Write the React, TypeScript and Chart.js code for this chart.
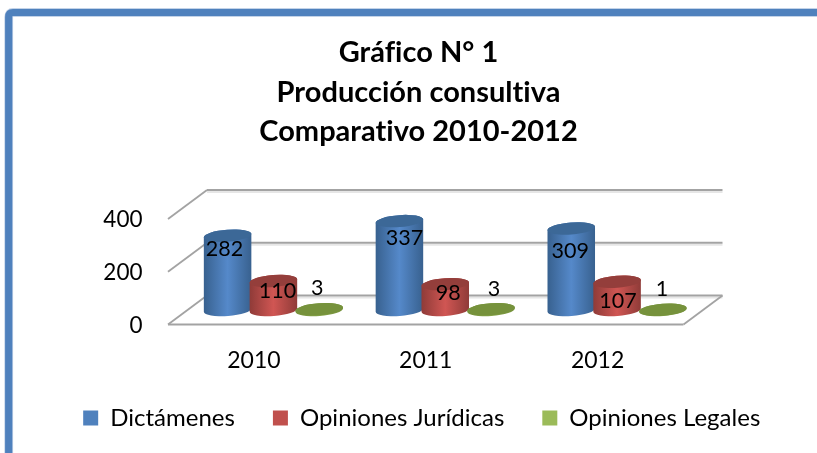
import React, { useEffect, useRef } from "react";
import { Chart, registerables } from "chart.js";

Chart.register(...registerables);

const titleLines = ["Gráfico N° 1", "Producción consultiva", "Comparativo 2010-2012"];
const categories = ["2010", "2011", "2012"];
const dictamenes = [282, 337, 309];
const opinionesJuridicas = [110, 98, 107];
const opinionesLegales = [3, 3, 1];
const seriesNames = ["Dictámenes", "Opiniones Jurídicas", "Opiniones Legales"];
const legendColors = ["#4f81bd", "#c0504d", "#9bbb59"];
const bodyEdge = ["#38618f", "#8f3b38", "#76923c"];
const bodyMid = ["#5589ca", "#d05653", "#8aa84c"];
const topColors = ["#3c6897", "#943e3b", "#76923c"];
// Hand placement of each value label relative to the top of its column (dx, dy).
const labelNudges = [
  [[-3, 13], [4, 10], [-2, -21]],
  [[5, 17], [3, 9], [3, -20]],
  [[-1, 23], [1, 19], [-1, -21]],
];

const DEPTH_X = 19.5;
const DEPTH_Y = 14.5;
const FONT = "Lato";
const TILT = -0.075;

const cylinderPlugin = {
  id: "cylinders",
  beforeDraw(chart: any) {
    const { ctx, width, height } = chart;
    ctx.letterSpacing = "0.01px";
    ctx.save();
    ctx.fillStyle = "#ffffff";
    ctx.fillRect(0, 0, width, height);
    const frame = () => {
      ctx.beginPath();
      ctx.moveTo(8.7, height + 5);
      ctx.lineTo(8.7, 17);
      ctx.quadraticCurveTo(8.7, 12.5, 13, 12.5);
      ctx.lineTo(width + 5, 12.5);
      ctx.stroke();
    };
    ctx.strokeStyle = "#c3d3e8";
    ctx.lineWidth = 8.8;
    frame();
    ctx.strokeStyle = "#4f81bd";
    ctx.lineWidth = 7.2;
    frame();
    ctx.restore();
  },
  beforeDatasetsDraw(chart: any) {
    const { ctx, chartArea: a, scales } = chart;
    const y = scales.y;
    ctx.save();
    ctx.lineCap = "butt";
    const line = (x1: number, y1: number, x2: number, y2: number) => {
      ctx.beginPath();
      ctx.moveTo(x1, y1);
      ctx.lineTo(x2, y2);
      ctx.stroke();
    };
    const values = y.ticks.map((t: any) => t.value);
    ctx.strokeStyle = "#e6e6e6";
    ctx.lineWidth = 2;
    values.forEach((v: number) => {
      const p = y.getPixelForValue(v);
      line(a.left + DEPTH_X, p - DEPTH_Y + 2, a.right + DEPTH_X, p - DEPTH_Y + 2);
    });
    ctx.strokeStyle = "#a3a3a3";
    ctx.lineWidth = 1.8;
    values.forEach((v: number) => {
      const p = y.getPixelForValue(v);
      line(a.left + DEPTH_X, p - DEPTH_Y, a.right + DEPTH_X, p - DEPTH_Y);
      line(a.left - DEPTH_X, p + DEPTH_Y, a.left + DEPTH_X, p - DEPTH_Y);
    });
    const p0 = y.getPixelForValue(0);
    line(a.left - DEPTH_X, p0 + DEPTH_Y, a.right - DEPTH_X, p0 + DEPTH_Y);
    line(a.right - DEPTH_X, p0 + DEPTH_Y, a.right + DEPTH_X, p0 - DEPTH_Y);
    ctx.restore();
  },
  beforeDatasetDraw() {
    return false;
  },
  afterDatasetsDraw(chart: any) {
    const { ctx } = chart;
    const rot = TILT;
    chart.data.datasets.forEach((ds: any, di: number) => {
      const meta = chart.getDatasetMeta(di);
      meta.data.forEach((bar: any) => {
        const rx = bar.width * 0.52;
        const ry = 6;
        const cx = bar.x;
        const base = bar.base;
        const top = bar.y;
        ctx.save();
        const g = ctx.createLinearGradient(cx - rx, 0, cx + rx, 0);
        g.addColorStop(0, bodyEdge[di]);
        g.addColorStop(0.5, bodyMid[di]);
        g.addColorStop(1, bodyEdge[di]);
        ctx.fillStyle = g;
        ctx.beginPath();
        ctx.ellipse(cx, base, rx, ry, rot, 0, Math.PI);
        ctx.ellipse(cx, top, rx, ry, rot, Math.PI, Math.PI * 2);
        ctx.closePath();
        ctx.fill();
        ctx.fillStyle = topColors[di];
        ctx.beginPath();
        ctx.ellipse(cx, top, rx, ry, rot, 0, Math.PI * 2);
        ctx.fill();
        ctx.restore();
      });
    });
    ctx.save();
    ctx.fillStyle = "#000000";
    ctx.font = `21.5px ${FONT}`;
    ctx.textAlign = "center";
    ctx.textBaseline = "middle";
    chart.data.datasets.forEach((ds: any, di: number) => {
      chart.getDatasetMeta(di).data.forEach((bar: any, ci: number) => {
        const [dx, dy] = labelNudges[ci][di];
        ctx.fillText(String(ds.data[ci]), bar.x + dx, bar.y + dy);
      });
    });
    ctx.restore();
  },
  afterLayout(chart: any) {
    // The legend centres its trailing padding too; move it and let the x labels breathe.
    chart.legend.left += 3;
    chart.legend.right += 3;
    chart.scales.x.bottom += 40;
  },
};

export default function App() {
  const ref = useRef<HTMLCanvasElement | null>(null);
  useEffect(() => {
    const chart = new Chart(ref.current as HTMLCanvasElement, {
      type: "bar",
      data: {
        labels: categories,
        datasets: [dictamenes, opinionesJuridicas, opinionesLegales].map((data, i) => ({
          label: seriesNames[i],
          data,
          backgroundColor: legendColors[i],
          categoryPercentage: 0.8,
          barPercentage: 1,
          yAxisID: "y",
        })),
      },
      options: {
        responsive: false,
        animation: false,
        layout: { padding: { left: 20, right: 0, top: 0, bottom: 13 } },
        plugins: {
          tooltip: { enabled: false },
          title: {
            display: true,
            text: titleLines,
            color: "#000000",
            font: { family: FONT, size: 29, weight: "bold", lineHeight: 39.5 / 29 },
            padding: { top: 33, bottom: 53 },
          },
          legend: {
            position: "bottom",
            labels: {
              color: "#000000",
              font: { family: FONT, size: 24 },
              boxWidth: 15,
              boxHeight: 15,
              padding: 38,
            },
          },
        },
        scales: {
          x: {
            grid: { display: false, drawTicks: false },
            border: { display: false },
            ticks: { color: "#000000", font: { family: FONT, size: 23 }, padding: 37, labelOffset: -19.5, maxRotation: 0 },
            afterFit: (s: any) => { s.height = 58; },
          },
          y: {
            min: 0,
            max: 400,
            grid: { display: false, drawTicks: false },
            border: { display: false },
            ticks: { stepSize: 200, color: "#000000", font: { family: FONT, size: 22.5 }, padding: 45, labelOffset: 15.5 },
            afterFit: (s: any) => { s.width = 167.5; },
          },
          spacer: {
            position: "right",
            min: 0,
            max: 400,
            grid: { display: false, drawTicks: false },
            border: { display: false },
            ticks: { display: false },
            afterFit: (s: any) => { s.width = 114; },
          },
        },
      },
      plugins: [cylinderPlugin],
    } as any);
    return () => chart.destroy();
  }, []);
  return (
    <div style={{ position: "absolute", left: 0, top: 0, width: 817, height: 453, overflow: "hidden" }}>
      <canvas ref={ref} width={817} height={453} style={{ display: "block" }} />
    </div>
  );
}
